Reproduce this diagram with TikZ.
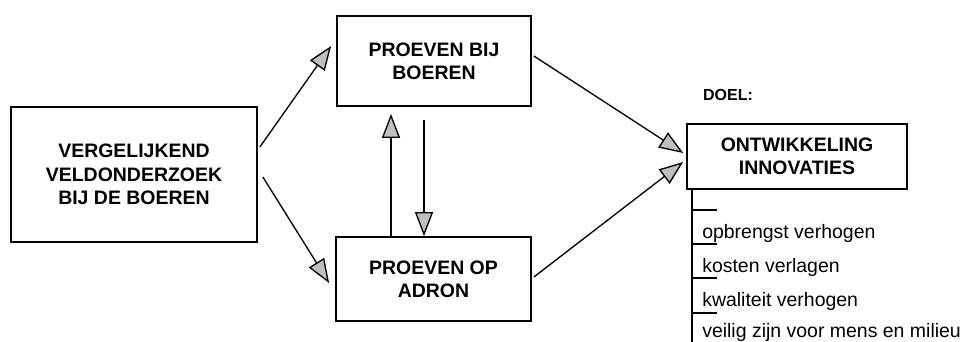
\documentclass[tikz,border=0pt]{standalone}
\usepackage{fontspec}
\setmainfont{Liberation Sans}
\usetikzlibrary{arrows.meta,calc}

\begin{document}
\begin{tikzpicture}[x=0.75pt,y=-0.75pt,
        blok/.style={draw,line width=1.3pt,align=center,inner sep=0pt,
            font=\fontsize{14.6}{17.5}\selectfont\bfseries},
        pijl/.style={line width=1pt,
            -{Triangle[length=18pt,width=13.5pt,fill=gray!50]}},
        tak/.style={line width=1.3pt},
        punt/.style={anchor=base west,inner sep=0pt,
            font=\fontsize{14.6}{17.5}\selectfont}]
        % Frame
        \useasboundingbox (0,0) rectangle (966,342);

        % Boxes
        \node[blok,minimum width=184.5pt,minimum height=101.25pt] (veld) at (134,174.5)
            {VERGELIJKEND\\VELDONDERZOEK\\ BIJ DE BOEREN};
        \node[blok,minimum width=145.5pt,minimum height=67.5pt] (boeren) at (434,61)
            {PROEVEN BIJ\\BOEREN};
        \node[blok,minimum width=146.25pt,minimum height=63pt] (adron) at (433.5,279)
            {PROEVEN OP\\ADRON};
        \node[blok,minimum width=165pt,minimum height=48.75pt] (innov) at (797,156.5)
            {ONTWIKKELING\\INNOVATIES};

        % Label above the goal
        \node[font=\fontsize{12}{14}\selectfont\bfseries] (doel) at (728,95) {DOEL:};

        % Arrows
        \draw[pijl] ($(veld.east)+(2,-27.5)$) -- ($(boeren.west)+(-5,-15)$);
        \draw[pijl] ($(veld.east)+(5,2.5)$) -- ($(adron.west)+(-6,4)$);
        \draw[pijl] ($(adron.north)+(-42.5,0)$) -- ($(boeren.south)+(-43,7)$);
        \draw[pijl] ($(boeren.south)+(-10,13)$) -- ($(adron.north)+(-9.5,0)$);
        \draw[pijl] ($(boeren.east)+(2,-5)$) -- ($(innov.west)+(-3,-3.5)$);
        \draw[pijl] ($(adron.east)+(2,-2)$) -- ($(innov.west)+(-3,5.5)$);

        % Goals list
        \coordinate (stam) at ($(innov.south west)+(6,0)$);
        \coordinate (voet) at ($(stam)+(0,160)$);
        \draw[tak] (stam) -- (voet);
        \foreach \y [count=\i] in {210,244,278,313} {
            \coordinate (t\i) at (stam |- 0,\y);
            \coordinate (e\i) at ($(t\i)+(25,0)$);
            \draw[tak] (t\i) -- (e\i);
        }

        \node[punt] (doel1) at (702,238) {opbrengst verhogen};
        \node[punt] (doel2) at (702,272) {kosten verlagen};
        \node[punt] (doel3) at (702,306) {kwaliteit verhogen};
        \node[punt] (doel4) at (702,337.5) {veilig zijn voor mens en milieu};
    \end{tikzpicture}
\end{document}
